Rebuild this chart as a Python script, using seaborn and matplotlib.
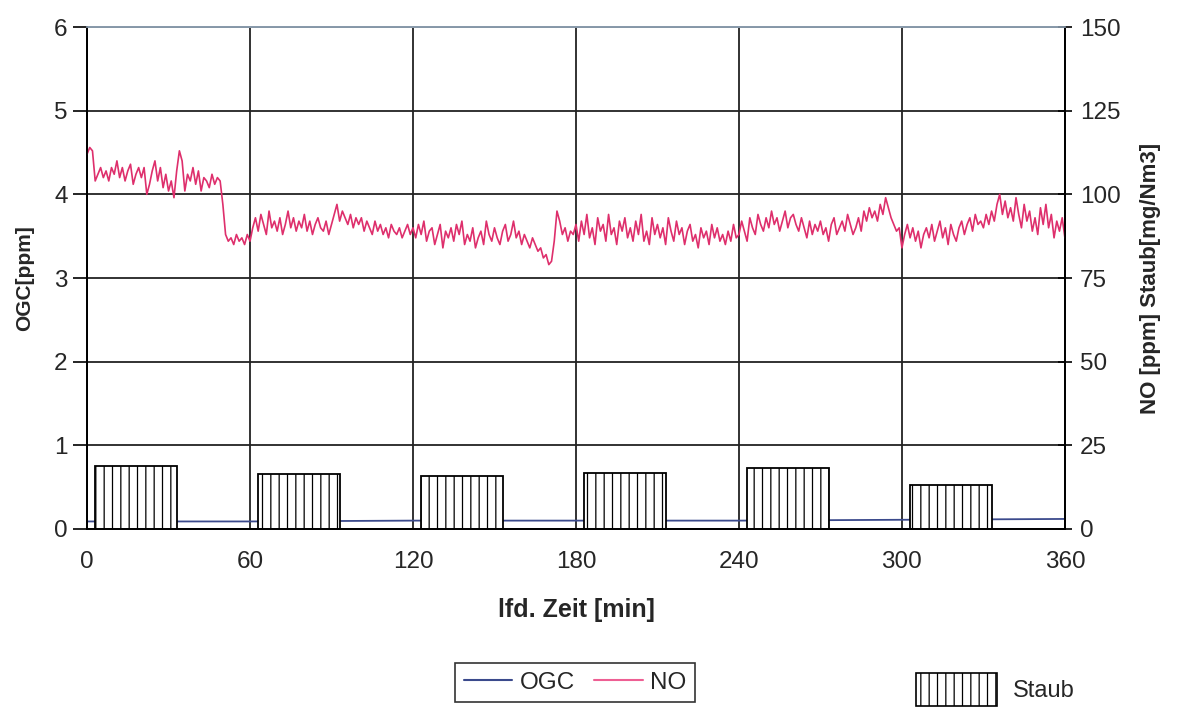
import numpy as np
import pandas as pd
import matplotlib
matplotlib.use('Agg')
import matplotlib.pyplot as plt
import seaborn as sns
from matplotlib.patches import Patch
from matplotlib.lines import Line2D

# NO [ppm], read every minute from 0 to 360
no_time = list(range(0, 361))
no_ppm = [112, 114, 113, 104, 106, 108, 105, 107, 104, 108,
          106, 110, 105, 108, 104, 107, 109, 103, 106, 108,
          105, 108, 100, 103, 107, 110, 104, 108, 102, 106,
          101, 104, 99, 107, 113, 110, 101, 106, 104, 108,
          103, 107, 101, 105, 104, 102, 106, 103, 105, 104,
          97, 88, 86, 87, 85, 88, 86, 87, 85, 88,
          86, 90, 93, 89, 94, 91, 88, 95, 90, 92,
          89, 93, 88, 91, 95, 90, 93, 89, 92, 90,
          94, 89, 92, 88, 91, 93, 90, 89, 92, 88,
          91, 94, 97, 92, 95, 93, 91, 94, 90, 93,
          91, 93, 89, 92, 90, 88, 92, 89, 91, 88,
          90, 87, 91, 89, 88, 90, 87, 89, 91, 88,
          90, 87, 91, 88, 92, 86, 89, 90, 85, 88,
          91, 84, 89, 87, 90, 86, 91, 88, 92, 85,
          88, 86, 90, 84, 87, 89, 85, 92, 88, 86,
          90, 87, 85, 89, 91, 86, 88, 92, 87, 89,
          85, 88, 86, 84, 87, 85, 83, 84, 81, 82,
          79, 80, 86, 95, 92, 88, 90, 86, 89, 88,
          91, 86, 92, 88, 94, 87, 90, 85, 93, 89,
          91, 86, 94, 88, 90, 85, 92, 89, 93, 87,
          90, 86, 92, 88, 94, 86, 89, 85, 93, 88,
          91, 87, 90, 85, 93, 89, 86, 92, 88, 90,
          85, 89, 91, 86, 88, 84, 90, 87, 89, 85,
          91, 87, 90, 86, 88, 85, 89, 86, 91, 87,
          88, 92, 89, 86, 93, 90, 88, 94, 91, 89,
          93, 90, 95, 91, 93, 89, 92, 95, 90, 93,
          94, 91, 89, 93, 90, 87, 92, 88, 91, 89,
          92, 88, 90, 86, 91, 93, 88, 90, 92, 89,
          94, 91, 88, 90, 93, 89, 95, 92, 96, 93,
          95, 92, 97, 94, 99, 96, 93, 91, 89, 90,
          84, 88, 91, 87, 90, 86, 89, 84, 88, 90,
          87, 91, 86, 89, 92, 87, 90, 85, 91, 88,
          86, 90, 92, 88, 91, 93, 89, 94, 91, 92,
          90, 94, 91, 95, 92, 97, 100, 94, 98, 93,
          96, 92, 99, 94, 90, 97, 92, 95, 89, 93,
          88, 96, 91, 97, 90, 94, 87, 92, 89, 93,
          87]

# OGC [ppm]
ogc_time = [0, 60, 120, 180, 240, 300, 360]
ogc_ppm = [0.09, 0.09, 0.10, 0.10, 0.10, 0.11, 0.12]

# Staub [mg/Nm3], one measurement per 30 min block
staub_mid = [18, 78, 138, 198, 258, 318]
staub_val = [18.8, 16.4, 15.8, 16.7, 18.2, 13.1]

no_df = pd.DataFrame({'t': no_time, 'NO': no_ppm})
ogc_df = pd.DataFrame({'t': ogc_time, 'OGC': ogc_ppm})
staub_df = pd.DataFrame({'t': staub_mid, 'Staub': staub_val})

sns.set_theme(style='white')
plt.rcParams['font.family'] = ['Liberation Sans', 'DejaVu Sans']
plt.rcParams['hatch.linewidth'] = 0.9

no_col = '#de2f6c'
ogc_col = '#3b4a8c'

fig = plt.figure(figsize=(11.81, 7.11), dpi=100)
ax = fig.add_axes([0.0737, 0.256, 0.828, 0.706])
ax2 = ax.twinx()

sns.lineplot(data=ogc_df, x='t', y='OGC', ax=ax, color=ogc_col, linewidth=1.3)

sns.barplot(data=staub_df, x='t', y='Staub', ax=ax2, native_scale=True, width=0.5,
            color='white', edgecolor='black', linewidth=1.3)
for p in ax2.patches:
    p.set_hatch('||')
    p.set_facecolor('white')

sns.lineplot(data=no_df, x='t', y='NO', ax=ax2, color=no_col, linewidth=1.2)

ax.set_xlim(0, 360)
ax.set_ylim(0, 6)
ax2.set_ylim(0, 150)
ax.set_xticks(range(0, 361, 60))
ax.set_yticks(range(0, 7))
ax2.set_yticks(range(0, 151, 25))

ax.grid(True, color='#222222', linewidth=1.3)
ax.set_axisbelow(True)
for s in ['left', 'bottom', 'right']:
    ax.spines[s].set_color('black')
    ax.spines[s].set_linewidth(1.3)
    ax2.spines[s].set_color('black')
    ax2.spines[s].set_linewidth(1.3)
ax.spines['top'].set_color('#8899aa')
ax2.spines['top'].set_color('#8899aa')

ax.tick_params(axis='both', labelsize=17.5, direction='out', length=10, width=1.2, color='black')
ax.tick_params(axis='x', pad=6)
ax.tick_params(axis='y', pad=4)
ax2.tick_params(axis='y', labelsize=17.5, direction='inout', length=10, width=1.2, color='black', pad=6)

ax.set_xlabel('lfd. Zeit [min]', fontsize=18, fontweight='bold', labelpad=18)
ax.set_ylabel('OGC[ppm]', fontsize=15, fontweight='bold', labelpad=14)
ax2.set_ylabel('NO [ppm] Staub[mg/Nm3]', fontsize=16, fontweight='bold', labelpad=14)

h_lines = [Line2D([], [], color=ogc_col, linewidth=1.5),
           Line2D([], [], color='#ee5f93', linewidth=1.5)]
leg1 = fig.legend(h_lines, ['OGC', 'NO'], loc='center', bbox_to_anchor=(0.487, 0.04),
                  ncol=2, fontsize=17.5, frameon=True, fancybox=False, edgecolor='black',
                  handlelength=2.0, handletextpad=0.3, columnspacing=0.8, borderpad=0.35)
leg1.get_frame().set_linewidth(1.2)

h_bar = [Patch(facecolor='white', edgecolor='black', hatch='||', linewidth=1.2)]
fig.legend(h_bar, ['Staub'], loc='center left', bbox_to_anchor=(0.758, 0.03),
           fontsize=17, frameon=False, handlelength=3.4, handleheight=1.8, handletextpad=0.7)

fig.savefig('out.png', dpi=100)
